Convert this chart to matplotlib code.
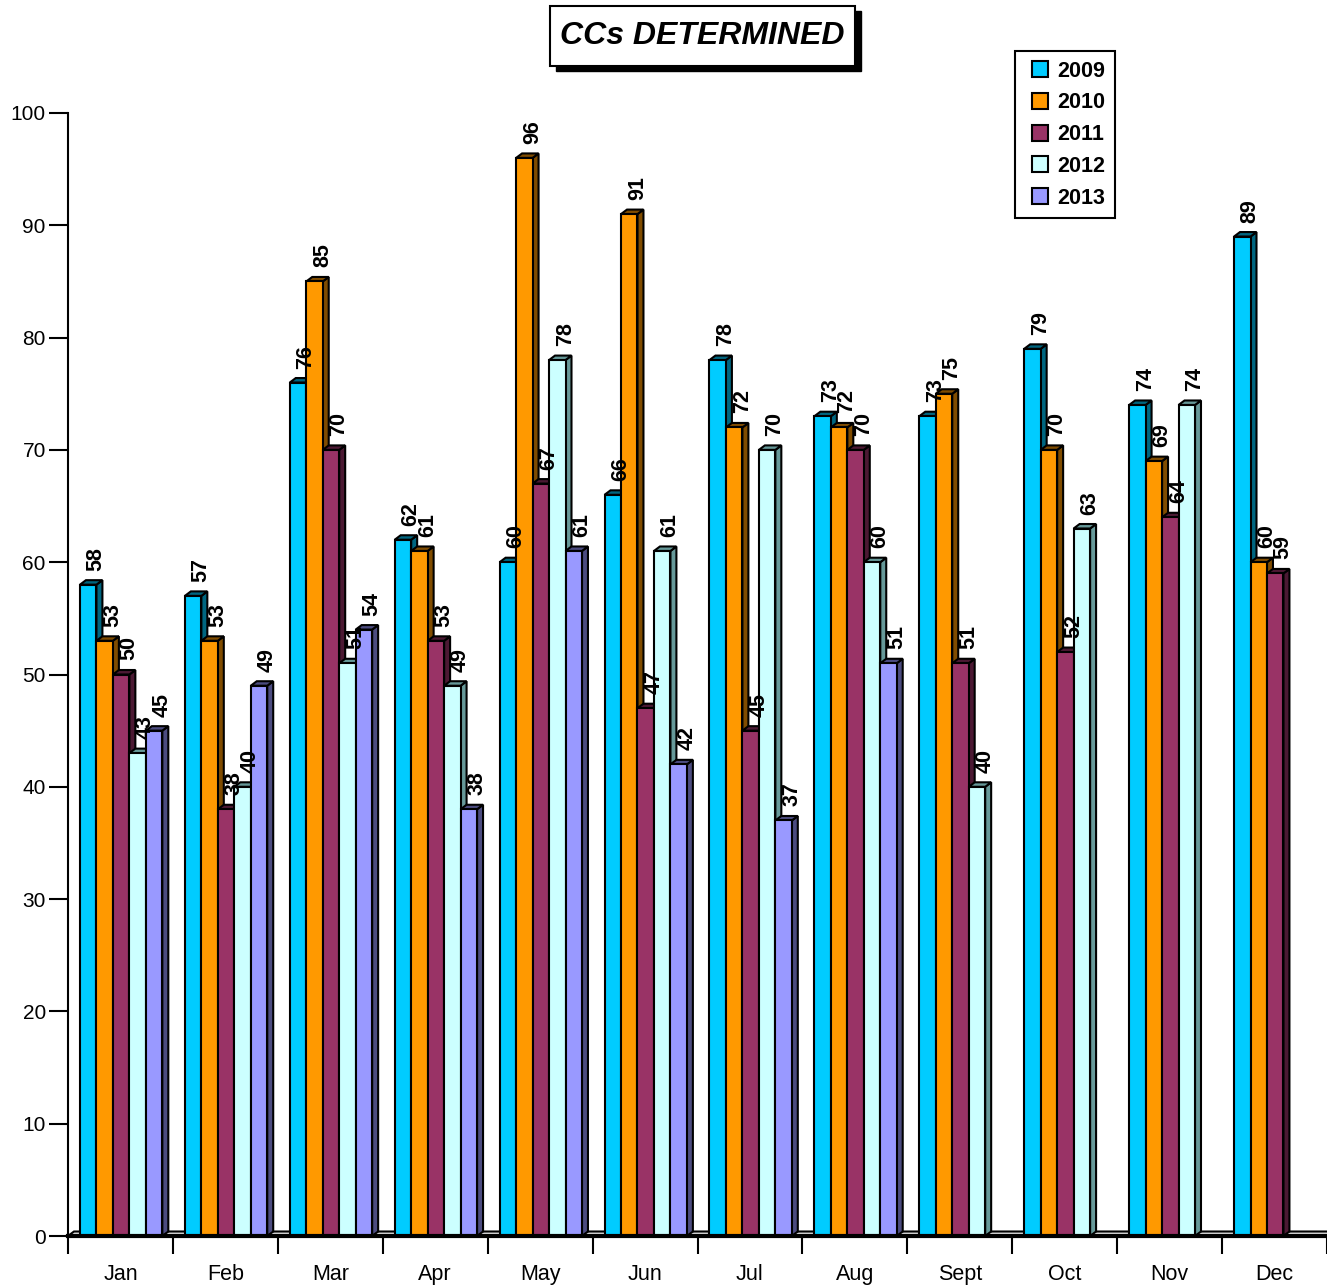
import matplotlib
matplotlib.use("Agg")
import matplotlib.pyplot as plt
from matplotlib.patches import Polygon, Rectangle
from matplotlib.lines import Line2D

plt.rcParams['font.family'] = ['Liberation Sans', 'DejaVu Sans']

months = ["Jan", "Feb", "Mar", "Apr", "May", "Jun", "Jul", "Aug", "Sept", "Oct", "Nov", "Dec"]
years = ["2009", "2010", "2011", "2012", "2013"]
v2009 = [58, 57, 76, 62, 60, 66, 78, 73, 73, 79, 74, 89]
v2010 = [53, 53, 85, 61, 96, 91, 72, 72, 75, 70, 69, 60]
v2011 = [50, 38, 70, 53, 67, 47, 45, 70, 51, 52, 64, 59]
v2012 = [43, 40, 51, 49, 78, 61, 70, 60, 40, 63, 74, None]
v2013 = [45, 49, 54, 38, 61, 42, 37, 51, None, None, None, None]
series = [v2009, v2010, v2011, v2012, v2013]

front_colors = ["#00CCFF", "#FF9900", "#993366", "#CCFFFF", "#9999FF"]
side_colors = ["#006680", "#804C00", "#4C1933", "#669999", "#4C4C80"]

fig = plt.figure(figsize=(13.27, 12.87), dpi=100)
ax = fig.add_axes([68 / 1327, 51 / 1287, 1 - 68 / 1327, (1236 - 113) / 1287])
ax.set_xlim(0, 12)
ax.set_ylim(0, 100)

w = 0.157      # bar width in month units
x0 = 0.114     # offset of first bar inside a month
dx = 0.057     # 3d depth
dy = 0.40

# floor
ax.add_patch(Polygon([(0, 0), (12, 0), (12 + dx, dy), (dx, dy)], closed=True,
                     facecolor="#E0E0E0", edgecolor="black", lw=1.5, zorder=1, clip_on=False))

for i, vals in enumerate(series):
    for m, v in enumerate(vals):
        if v is None:
            continue
        left = m + x0 + i * w
        z = 2 + i * 0.1
        ax.add_patch(Polygon([(left + w, 0), (left + w + dx, dy), (left + w + dx, v + dy), (left + w, v)],
                             closed=True, facecolor=side_colors[i], edgecolor="black", lw=1.5, zorder=z))
        ax.add_patch(Polygon([(left, v), (left + dx, v + dy), (left + w + dx, v + dy), (left + w, v)],
                             closed=True, facecolor=side_colors[i], edgecolor="black", lw=1.5, zorder=z))
        ax.bar(left, v, width=w, align="edge", color=front_colors[i], edgecolor="black", lw=1.5, zorder=z)
        ax.annotate(str(v), xy=(left + w / 2, v), xytext=(8, 14), textcoords="offset pixels",
                    rotation=90, ha="center", va="bottom", fontsize=15.5, fontweight="bold", zorder=5)

ax.set_xticks(range(13))
ax.set_xticklabels([])
ax.set_xticks([m + 0.5 for m in range(12)], minor=True)
ax.set_xticklabels(months, minor=True, fontsize=15.5)
ax.tick_params(axis="x", which="major", length=13, width=1.5, direction="out")
ax.tick_params(axis="x", which="minor", length=0, pad=20)
ax.set_yticks(range(0, 101, 10))
ax.tick_params(axis="y", length=14, width=1.5, labelsize=15, pad=2)

for s in ["top", "right"]:
    ax.spines[s].set_visible(False)
ax.spines["left"].set_linewidth(1.5)
ax.spines["bottom"].set_linewidth(3)
ax.spines["bottom"].set_zorder(6)

# title box with shadow
fig.patches.append(Rectangle((556 / 1327, 1 - 71 / 1287), 305 / 1327, 60 / 1287,
                             transform=fig.transFigure, facecolor="black", edgecolor="black"))
fig.patches.append(Rectangle((550 / 1327, 1 - 66 / 1287), 305 / 1327, 60 / 1287,
                             transform=fig.transFigure, facecolor="white", edgecolor="black", lw=1.5))
fig.text(702 / 1327, 1 - 36 / 1287, "CCs DETERMINED", ha="center", va="center",
         fontsize=23, fontweight="bold", fontstyle="italic")

handles = [Line2D([], [], marker="s", linestyle="none", markersize=12, markerfacecolor=c,
                  markeredgecolor="black", markeredgewidth=1.5) for c in front_colors]
leg = fig.legend(handles, years, loc="upper left", bbox_to_anchor=(1015 / 1327, 1 - 51 / 1287),
                 bbox_transform=fig.transFigure, fancybox=False, framealpha=1, edgecolor="black",
                 prop={"weight": "bold", "size": 15.5}, handlelength=1.4, handletextpad=0.1,
                 labelspacing=0.5, borderpad=0.45, borderaxespad=0)
leg.get_frame().set_linewidth(1.5)

plt.savefig("out.png", dpi=100)
